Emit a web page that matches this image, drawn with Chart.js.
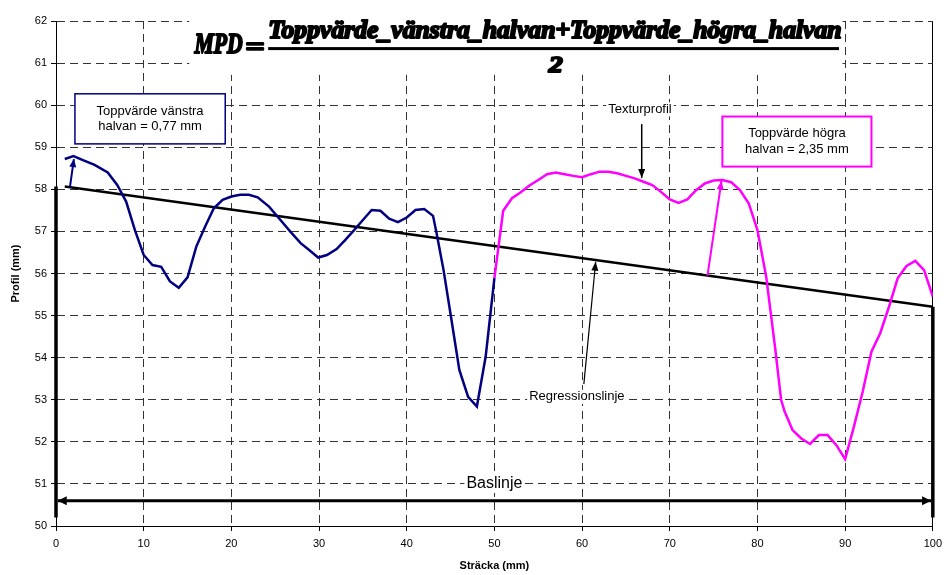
<!DOCTYPE html>
<html>
<head>
<meta charset="utf-8">
<script src="https://cdn.jsdelivr.net/npm/chart.js@4"></script>
<style>
html, body { margin: 0; padding: 0; background: #fff; }
</style>
</head>
<body>
<canvas id="myChart" width="948" height="575"></canvas>
<script>
// profile, left half (navy) and right half (magenta), mm
var leftX = [1, 2, 3, 4.4, 5.9, 7, 8, 9, 10, 11, 12, 13, 14, 15, 16, 17, 18, 19, 20, 21, 22, 23, 24.3, 25.6, 26.75, 27.9, 28.8, 29.9, 30.9, 32, 33, 34, 35, 36, 37, 38, 39, 40, 41, 42, 43, 43.4, 44.2, 45.1, 46, 47, 48, 49, 50];
var leftY = [58.72, 58.79, 58.70, 58.58, 58.40, 58.10, 57.71, 57.03, 56.44, 56.20, 56.16, 55.81, 55.66, 55.91, 56.64, 57.11, 57.55, 57.75, 57.83, 57.87, 57.87, 57.81, 57.59, 57.27, 56.99, 56.72, 56.57, 56.38, 56.44, 56.58, 56.80, 57.03, 57.27, 57.51, 57.49, 57.30, 57.22, 57.33, 57.51, 57.53, 57.37, 56.96, 56.08, 54.90, 53.71, 53.07, 52.84, 54.02, 55.89];

var rightX = [50, 51, 52, 53, 54, 55, 56, 57, 58, 59, 60, 61, 62, 63, 64, 65, 66, 67, 68, 69, 70, 71, 72, 73, 74, 75, 76, 77, 78, 79, 80, 81, 82, 82.7, 83.1, 84, 85, 86, 87, 88, 89, 90, 91, 92, 93, 94, 95, 96, 97, 98, 99, 100];
var rightY = [55.89, 57.49, 57.79, 57.93, 58.09, 58.22, 58.36, 58.40, 58.36, 58.32, 58.29, 58.36, 58.42, 58.42, 58.38, 58.32, 58.26, 58.18, 58.10, 57.94, 57.76, 57.68, 57.76, 57.98, 58.14, 58.21, 58.22, 58.17, 57.98, 57.67, 57.03, 55.92, 54.26, 53.00, 52.72, 52.28, 52.08, 51.95, 52.16, 52.16, 51.92, 51.59, 52.36, 53.19, 54.14, 54.58, 55.21, 55.89, 56.18, 56.30, 56.08, 55.45];

// regression line end points
var regX = [1, 100];
var regY = [58.07, 55.21];

// baseline level and the vertical end markers
var baseLevel = 50.6;
var markBottom = 50.2;

var xMin = 0, xMax = 100, xStep = 10;
var yMin = 50, yMax = 62, yStep = 1;

function pts(xs, ys) {
    return xs.map(function (x, i) { return { x: x, y: ys[i] }; });
}

Chart.defaults.font.family = '"Liberation Sans", Arial, sans-serif';
Chart.defaults.color = "#000";

function tip(c, x1, y1, x2, y2, len, half) {
    var a = Math.atan2(y2 - y1, x2 - x1);
    var ca = Math.cos(a), sa = Math.sin(a);
    c.beginPath();
    c.moveTo(x2, y2);
    c.lineTo(x2 - len * ca + half * sa, y2 - len * sa - half * ca);
    c.lineTo(x2 - len * ca - half * sa, y2 - len * sa + half * ca);
    c.closePath();
    c.fill();
}

function arrow(c, x1, y1, x2, y2, color, w, len, half, both) {
    c.save();
    c.strokeStyle = color;
    c.fillStyle = color;
    c.lineWidth = w;
    c.beginPath();
    c.moveTo(x1, y1);
    c.lineTo(x2, y2);
    c.stroke();
    tip(c, x1, y1, x2, y2, len, half);
    if (both) tip(c, x2, y2, x1, y1, len, half);
    c.restore();
}

// draw a string squeezed/stretched into a given width
function fitText(c, txt, x0, width, baseline) {
    var w = c.measureText(txt).width;
    c.save();
    c.translate(x0, baseline);
    c.scale(width / w, 1);
    c.textAlign = "left";
    c.textBaseline = "alphabetic";
    c.lineJoin = "round";
    c.fillText(txt, 0, 0);
    c.lineWidth = 2;
    c.strokeText(txt, 0, 0);
    c.restore();
}

// label with white background
function label(c, txt, x, y) {
    var w = c.measureText(txt).width;
    c.fillStyle = "#fff";
    c.fillRect(x - w / 2 - 2, y - 7, w + 4, 14);
    c.fillStyle = "#000";
    c.fillText(txt, x, y);
}

var notes = {
    id: "notes",
    afterDatasetsDraw: function (chart) {
        var c = chart.ctx;
        var sx = chart.scales.x, sy = chart.scales.y;
        function X(v) { return sx.getPixelForValue(v); }
        function Y(v) { return sy.getPixelForValue(v); }

        c.save();

        // formula
        c.fillStyle = "#fff";
        c.fillRect(X(15.2), Y(62.17), X(89.7) - X(15.2), Y(60.72) - Y(62.17));
        c.fillStyle = "#000";
        c.strokeStyle = "#000";
        c.font = 'bold italic 30px "Liberation Serif"';
        fitText(c, "MPD", X(15.8), X(21.3) - X(15.8), Y(61.24));
        c.font = 'bold 26px "Liberation Serif"';
        fitText(c, "=", X(21.6), X(23.8) - X(21.6), Y(61.2));
        c.font = 'bold italic 25px "Liberation Serif"';
        fitText(c, "Toppvärde_vänstra_halvan+Toppvärde_högra_halvan", X(24.2), X(89.6) - X(24.2), Y(61.6));
        c.fillRect(X(24.2), Y(61.38), X(89.3) - X(24.2), 3);
        c.font = 'bold italic 24px "Liberation Serif"';
        fitText(c, "2", X(56.2), X(57.8) - X(56.2), Y(60.79));

        // left box
        c.fillStyle = "#fff";
        c.fillRect(X(2.16), Y(60.27), X(19.3) - X(2.16), Y(59.08) - Y(60.27));
        c.strokeStyle = "#000080";
        c.lineWidth = 1.5;
        c.strokeRect(X(2.16), Y(60.27), X(19.3) - X(2.16), Y(59.08) - Y(60.27));
        c.fillStyle = "#000";
        c.font = '13px "Liberation Sans"';
        c.textAlign = "center";
        c.textBaseline = "middle";
        c.fillText("Toppvärde vänstra", X(10.73), Y(59.86));
        c.fillText("halvan = 0,77 mm", X(10.73), Y(59.49));

        // right box
        c.fillStyle = "#fff";
        c.fillRect(X(76.0), Y(59.73), X(93.0) - X(76.0), Y(58.54) - Y(59.73));
        c.strokeStyle = "#ff00ff";
        c.lineWidth = 2;
        c.strokeRect(X(76.0), Y(59.73), X(93.0) - X(76.0), Y(58.54) - Y(59.73));
        c.fillStyle = "#000";
        c.fillText("Toppvärde högra", X(84.5), Y(59.33));
        c.fillText("halvan = 2,35 mm", X(84.5), Y(58.95));

        // labels
        label(c, "Texturprofil", X(66.6), Y(59.9));
        label(c, "Regressionslinje", X(59.4), Y(53.07));

        // arrows
        arrow(c, X(1.59), Y(58.05), X(2.04), Y(58.72), "#000080", 2, 8, 3.5, false);
        arrow(c, X(74.3), Y(55.95), X(75.9), Y(58.21), "#ff00ff", 2, 9, 3.5, false);
        arrow(c, X(66.8), Y(59.55), X(66.8), Y(58.27), "#000", 1.5, 9, 3.5, false);
        arrow(c, X(60.2), Y(53.37), X(61.55), Y(56.28), "#000", 1.2, 9, 3.5, false);

        // baseline
        arrow(c, X(0.2), Y(baseLevel), X(99.8), Y(baseLevel), "#000", 3, 9, 4.5, true);
        c.font = '16px "Liberation Sans"';
        var bw = c.measureText("Baslinje").width;
        c.fillStyle = "#fff";
        c.fillRect(X(50) - bw / 2 - 2, Y(51.0) - 8, bw + 4, 17);
        c.fillStyle = "#000";
        c.fillText("Baslinje", X(50), Y(51.0));

        c.restore();
    }
};

var ctx = document.getElementById("myChart");

var myChart = new Chart(ctx, {
    type: "scatter",
    data: {
        datasets: [
            {
                label: "Vänstra halvan",
                data: pts(leftX, leftY),
                showLine: true,
                borderColor: "#000080",
                borderWidth: 2.5,
                pointRadius: 0,
                tension: 0
            },
            {
                label: "Högra halvan",
                data: pts(rightX, rightY),
                showLine: true,
                borderColor: "#ff00ff",
                borderWidth: 2.5,
                pointRadius: 0,
                tension: 0
            },
            {
                label: "Regressionslinje",
                data: pts(regX, regY),
                showLine: true,
                borderColor: "#000",
                borderWidth: 2.5,
                pointRadius: 0
            },
            {
                label: "start",
                data: pts([regX[0] - 1, regX[0] - 1], [regY[0], markBottom]),
                showLine: true,
                borderColor: "#000",
                borderWidth: 3.5,
                pointRadius: 0,
                clip: 10
            },
            {
                label: "end",
                data: pts([regX[1], regX[1]], [regY[1], markBottom]),
                showLine: true,
                borderColor: "#000",
                borderWidth: 3.5,
                pointRadius: 0,
                clip: 10
            }
        ]
    },
    options: {
        responsive: false,
        animation: false,
        layout: { padding: { left: 0, right: 11, top: 21, bottom: 0 } },
        plugins: {
            legend: { display: false },
            tooltip: { enabled: false }
        },
        scales: {
            x: {
                type: "linear",
                min: xMin,
                max: xMax,
                afterFit: function (s) { s.height = 49; },
                ticks: { stepSize: xStep, padding: 6, font: { size: 11 } },
                grid: {
                    color: function (c) { return c.tick && c.tick.value === xMax ? "#000" : "#333"; },
                    lineWidth: 1,
                    tickLength: 5,
                    tickColor: "#000"
                },
                border: {
                    color: "#000",
                    width: 1,
                    dash: function (c) { return c.tick && c.tick.value === xMax ? [] : [8, 5]; }
                },
                title: {
                    display: true,
                    text: "Sträcka (mm)",
                    font: { size: 11, weight: "bold" },
                    padding: { top: 0, bottom: 2 }
                }
            },
            y: {
                min: yMin,
                max: yMax,
                afterFit: function (s) { s.width = 56; },
                ticks: { stepSize: yStep, padding: 4, font: { size: 11 } },
                grid: {
                    color: "#333",
                    lineWidth: 1,
                    tickLength: 5,
                    tickColor: "#000"
                },
                border: { color: "#000", width: 1, dash: [8, 5] },
                title: {
                    display: true,
                    text: "Profil (mm)",
                    font: { size: 11, weight: "bold" },
                    padding: { top: 9, bottom: 0 }
                }
            }
        }
    },
    plugins: [notes]
});
</script>
</body>
</html>
